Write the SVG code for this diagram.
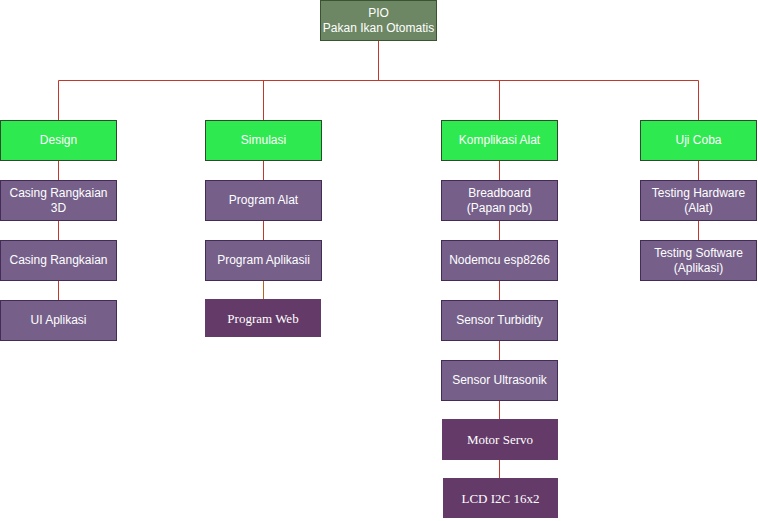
<svg xmlns="http://www.w3.org/2000/svg" width="758" height="521" viewBox="0 0 758 521">
  <style>
    .root rect { fill: #6d8764; stroke: #3a5431; stroke-width: 1; }
    .cat rect { fill: #2ee94f; stroke: #2d4a2d; stroke-width: 1; }
    .item rect { fill: #76608a; stroke: #432d57; stroke-width: 1; }
    .plain rect { fill: #643a68; stroke: none; }
    text { font-family: "Liberation Sans", Arial, sans-serif; font-size: 12px; fill: #ffffff; text-anchor: middle; }
    .plain text { font-family: "Liberation Serif", "Times New Roman", serif; font-size: 13px; }
    .conn path { fill: none; stroke: #c0392b; stroke-width: 1; }
    .conn path.alt { stroke: #b5651d; }
  </style>

  <g class="conn" id="connectors">
    <path d="M378.5 40.5 V80.5"/>
    <path d="M58.5 80.5 H698.5"/>
    <path d="M58.5 80.5 V120.5"/>
    <path d="M263.5 80.5 V120.5"/>
    <path d="M499.5 80.5 V120.5"/>
    <path d="M698.5 80.5 V120.5"/>
    <path d="M58.5 160.5 V180.5 M58.5 220.5 V240.5 M58.5 280.5 V300.5"/>
    <path d="M263.5 160.5 V180.5 M263.5 220.5 V240.5"/>
    <path class="alt" d="M263.5 280.5 V299"/>
    <path d="M499.5 160.5 V180.5 M499.5 220.5 V240.5 M499.5 280.5 V300.5 M499.5 340.5 V360.5 M499.5 400.5 V419 M499.5 460 V478"/>
    <path d="M698.5 160.5 V180.5 M698.5 220.5 V240.5"/>
  </g>

  <g id="pio" class="root">
    <rect x="320.5" y="0.5" width="116" height="40"/>
    <text x="378.5" y="17">PIO</text>
    <text x="378.5" y="32">Pakan Ikan Otomatis</text>
  </g>

  <!-- Design column -->
  <g id="design" class="cat">
    <rect x="0.5" y="120.5" width="116" height="40"/>
    <text x="58.5" y="144">Design</text>
  </g>
  <g id="casing-3d" class="item">
    <rect x="0.5" y="180.5" width="116" height="40"/>
    <text x="58.5" y="197">Casing Rangkaian</text>
    <text x="58.5" y="212">3D</text>
  </g>
  <g id="casing" class="item">
    <rect x="0.5" y="240.5" width="116" height="40"/>
    <text x="58.5" y="264">Casing Rangkaian</text>
  </g>
  <g id="ui-aplikasi" class="item">
    <rect x="0.5" y="300.5" width="116" height="40"/>
    <text x="58.5" y="324">UI Aplikasi</text>
  </g>

  <!-- Simulasi column -->
  <g id="simulasi" class="cat">
    <rect x="205.5" y="120.5" width="116" height="40"/>
    <text x="263.5" y="144">Simulasi</text>
  </g>
  <g id="program-alat" class="item">
    <rect x="205.5" y="180.5" width="116" height="40"/>
    <text x="263.5" y="204">Program Alat</text>
  </g>
  <g id="program-aplikasi" class="item">
    <rect x="205.5" y="240.5" width="116" height="40"/>
    <text x="263.5" y="264">Program Aplikasii</text>
  </g>
  <g id="program-web" class="plain">
    <rect x="205" y="299" width="116" height="38"/>
    <text x="263" y="323">Program Web</text>
  </g>

  <!-- Komplikasi Alat column -->
  <g id="komplikasi" class="cat">
    <rect x="441.5" y="120.5" width="116" height="40"/>
    <text x="499.5" y="144">Komplikasi Alat</text>
  </g>
  <g id="breadboard" class="item">
    <rect x="441.5" y="180.5" width="116" height="40"/>
    <text x="499.5" y="197">Breadboard</text>
    <text x="499.5" y="212">(Papan pcb)</text>
  </g>
  <g id="nodemcu" class="item">
    <rect x="441.5" y="240.5" width="116" height="40"/>
    <text x="499.5" y="264">Nodemcu esp8266</text>
  </g>
  <g id="turbidity" class="item">
    <rect x="441.5" y="300.5" width="116" height="40"/>
    <text x="499.5" y="324">Sensor Turbidity</text>
  </g>
  <g id="ultrasonik" class="item">
    <rect x="441.5" y="360.5" width="116" height="40"/>
    <text x="499.5" y="384">Sensor Ultrasonik</text>
  </g>
  <g id="motor-servo" class="plain">
    <rect x="442" y="419" width="116" height="41"/>
    <text x="500" y="444">Motor Servo</text>
  </g>
  <g id="lcd" class="plain">
    <rect x="443" y="478" width="115" height="40"/>
    <text x="500.5" y="503">LCD I2C 16x2</text>
  </g>

  <!-- Uji Coba column -->
  <g id="uji-coba" class="cat">
    <rect x="640.5" y="120.5" width="116" height="40"/>
    <text x="698.5" y="144">Uji Coba</text>
  </g>
  <g id="testing-hw" class="item">
    <rect x="640.5" y="180.5" width="116" height="40"/>
    <text x="698.5" y="197">Testing Hardware</text>
    <text x="698.5" y="212">(Alat)</text>
  </g>
  <g id="testing-sw" class="item">
    <rect x="640.5" y="240.5" width="116" height="40"/>
    <text x="698.5" y="257">Testing Software</text>
    <text x="698.5" y="272">(Aplikasi)</text>
  </g>
</svg>
